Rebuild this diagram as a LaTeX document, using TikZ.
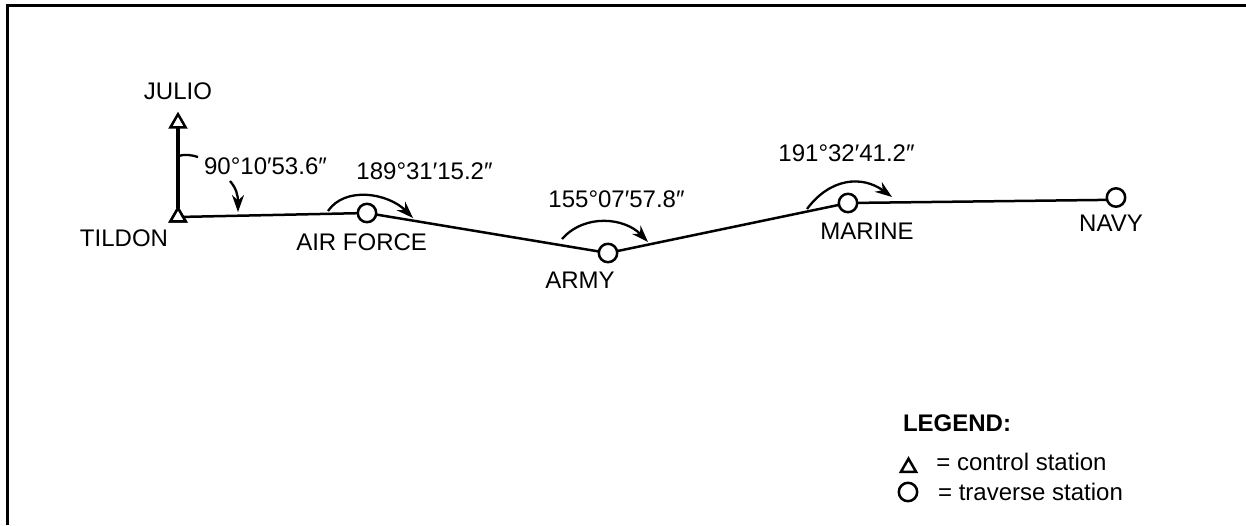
\documentclass[tikz,border=0pt]{standalone}
\usepackage{fontspec}
\setmainfont{Liberation Sans}
\usetikzlibrary{arrows.meta}
\usetikzlibrary{positioning}
\usetikzlibrary{shapes.geometric}

\begin{document}
\begin{tikzpicture}[x=0.5pt,y=-0.5pt,>={Stealth[length=8.5pt,width=6pt]},node distance = 5pt,line width=1.25pt]
\tikzstyle{ctrl}=[draw,fill=white,regular polygon,regular polygon sides=3,minimum size=8.8pt,inner sep=0pt,outer sep=0pt]
\tikzstyle{trav}=[draw,fill=white,circle,minimum size=9.2pt,inner sep=0pt,outer sep=0pt]
\tikzstyle{lab}=[inner sep=0pt,font=\fontsize{12}{14}\selectfont]
\tikzstyle{sweep}=[line width=1.15pt]
\useasboundingbox (0,0) rectangle (1246,525);
\draw[line width=1.5pt] (7.5,525) -- (7.5,5.5) -- (1246,5.5);
% stations
\node[ctrl]	(julio)		at (178,123)		{};
\node[ctrl]	(tildon)	at (178,217)		{};
\node[trav]	(airforce)	at (367,213)		{};
\node[trav]	(army)		at (608,253)		{};
\node[trav]	(marine)	at (848,203)		{};
\node[trav]	(navy)		at (1116,197.5)		{};
% station names
\node[lab]	(lj)	[above=6.5pt of julio]						{JULIO};
\node[lab]	(lt)	[below=3.75pt of tildon,xshift=-27pt]		{TILDON};
\node[lab]	(la)	[below=of airforce,xshift=-2.7pt]			{AIR FORCE};
\node[lab]	(lr)	[below=4.5pt of army,xshift=-14pt]			{ARMY};
\node[lab]	(lm)	[below=of marine,xshift=9.5pt]				{MARINE};
\node[lab]	(ln)	[below=3.75pt of navy,xshift=-2.5pt]		{NAVY};
% angles
\node[lab]	(a1)	at (265.5,166)		{90°10′53.6″};
\node[lab]	(a2)	at (424.5,171)		{189°31′15.2″};
\node[lab]	(a3)	at (616.5,199)		{155°07′57.8″};
\node[lab]	(a4)	at (846.5,153)		{191°32′41.2″};
% traverse lines
\draw[line width=1.6pt] (tildon) -- (julio);
\path[draw] (tildon) -- (airforce);
\path[draw] (airforce) -- (army);
\path[draw] (army) -- (marine);
\path[draw] (marine) -- (navy.195);
\node[ctrl] at (tildon) {};
% angle sweeps
\coordinate (s1) at (178,156);
\coordinate (e1) at (198,157);
\coordinate (s2) at (230,181);
\coordinate (e2) at (238,212);
\coordinate (s3) at (328,211);
\coordinate (e3) at (413,218);
\coordinate (s4) at (562,239);
\coordinate (e4) at (648,242);
\coordinate (s5) at (807,209);
\coordinate (e5) at (892,197);
\draw[sweep] (s1) .. controls (185,154) and (192,155) .. (e1);
\draw[sweep,->] (s2) .. controls (236,188) and (238,195) .. (e2);
\draw[sweep,->] (s3) .. controls (345,186) and (388,193) .. (e3);
\draw[sweep,->] (s4) .. controls (585,213) and (625,218) .. (e4);
\draw[sweep,->] (s5) .. controls (830,178) and (862,175) .. (e5);
% legend
\node[lab,font=\fontsize{12}{14}\selectfont\bfseries]	(lg)	at (957,423)	{LEGEND:};
\node[ctrl]	(kc)	at (908.5,467.5)	{};
\node[trav]	(kt)	at (908,492)		{};
\node[lab]	(tc)	at (1021.5,462)		{= control station};
\node[lab]	(tt)	at (1030.5,492)		{= traverse station};
\end{tikzpicture}
\end{document}
